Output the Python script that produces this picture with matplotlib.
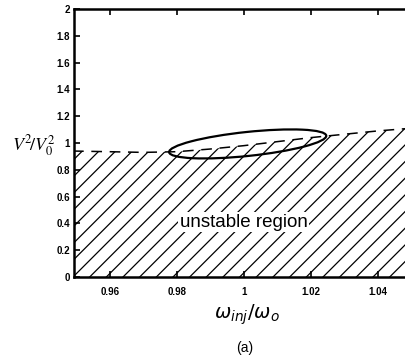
import numpy as np
import matplotlib
matplotlib.use("Agg")
import matplotlib.pyplot as plt
from matplotlib.patches import Ellipse
from matplotlib.transforms import ScaledTranslation

plt.rcParams['font.family'] = ['Liberation Sans', 'DejaVu Sans']
plt.rcParams['hatch.color'] = 'black'
plt.rcParams['hatch.linewidth'] = 0.9

# stability boundary
w_ratio = [0.949, 0.96, 0.97, 0.98, 0.99, 1.0, 1.01, 1.02, 1.03, 1.04, 1.05]
v_ratio = [0.94, 0.935, 0.93, 0.935, 0.955, 0.98, 1.01, 1.04, 1.065, 1.09, 1.11]

x_ticks = [0.96, 0.98, 1.0, 1.02, 1.04]
x_labels = ['0.96', '0.98', '1', '1.02', '1.04']
y_ticks = [0, 0.2, 0.4, 0.6, 0.8, 1.0, 1.2, 1.4, 1.6, 1.8, 2.0]
y_labels = ['0', '0.2', '0.4', '0.6', '0.8', '1', '1.2', '1.4', '1.6', '1.8', '2']

# locking region marker (centre in data units)
ell_center = (1.0012, 0.993)

fig = plt.figure(figsize=(4.05, 3.64), dpi=100)
ax = fig.add_axes([74 / 405, 87 / 364, 337 / 405, 268 / 364])

ax.fill_between(w_ratio, 0, v_ratio, facecolor='none', edgecolor='black',
                hatch='//', linewidth=0)
ax.plot(w_ratio, v_ratio, color='black', lw=1.1, dashes=(7, 5))

ell = Ellipse((0, 0), 1.58, 0.24, angle=6, fill=False, lw=1.6, color='black',
              transform=fig.dpi_scale_trans + ScaledTranslation(*ell_center, ax.transData))
ax.add_patch(ell)

ax.text(1.0, 0.41, 'unstable region', ha='center', va='center', fontsize=13.5,
        bbox=dict(facecolor='white', edgecolor='none', pad=1))

ax.set_xlim(0.9493, 1.05)
ax.set_ylim(0, 2)
ax.set_xticks(x_ticks)
ax.set_xticklabels(x_labels)
ax.set_yticks(y_ticks)
ax.set_yticklabels(y_labels)
ax.tick_params(direction='in', length=4, width=1.2, labelsize=7, top=True)
ax.tick_params(axis='x', pad=7)
ax.tick_params(axis='y', pad=3)
for lab in ax.get_xticklabels() + ax.get_yticklabels():
    lab.set_fontweight('bold')
for s in ['left', 'bottom', 'top']:
    ax.spines[s].set_linewidth(1.8)
ax.spines['right'].set_visible(False)

fig.text(34 / 405, 1 - 146 / 364, r'$V^2\!/V_0^2$', ha='center', va='center',
         fontsize=13, math_fontfamily='stix')
fig.text(247 / 405, 1 - 315 / 364, r'$\omega_{inj}/\omega_o$', ha='center', va='center',
         fontsize=14)
fig.text(245 / 405, 1 - 348 / 364, '(a)', ha='center', va='center', fontsize=10)

fig.savefig('out.png', dpi=100)
